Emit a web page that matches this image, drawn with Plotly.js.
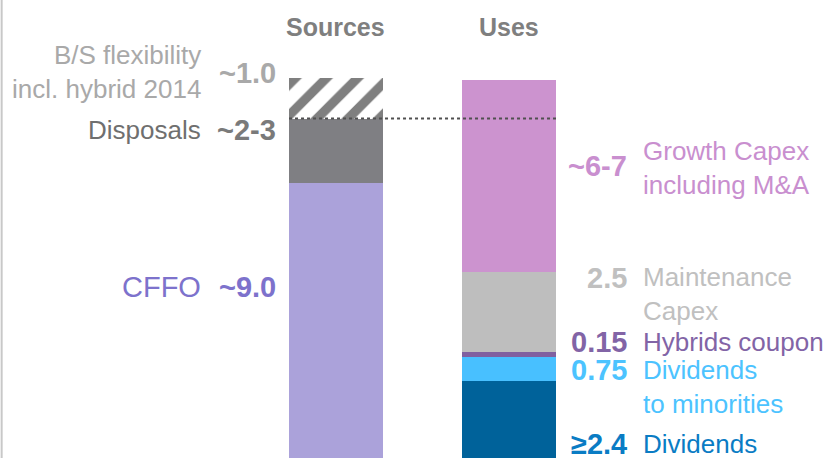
<!DOCTYPE html>
<html>
<head>
<meta charset="utf-8">
<script src="https://cdn.plot.ly/plotly-3.0.1.min.js"></script>
<style>html,body{margin:0;padding:0;background:#fff;}#chart{width:827px;height:458px;}</style>
</head>
<body>
<div id="chart"></div>
<script>
// ---- data ----
const columns = ['Sources', 'Uses'];
const sourceNames = ['CFFO', 'Disposals', 'B/S flexibility'];
const sourceValues = [8.6, 2.0, 1.25];
const sourceValueLabels = ['~9.0', '~2-3', '~1.0'];
const sourceTextLabels = ['CFFO', 'Disposals', 'B/S flexibility<br>incl. hybrid 2014'];
const useNames = ['Dividends', 'Dividends to minorities', 'Hybrids coupon', 'Maintenance Capex', 'Growth Capex'];
const useValues = [2.4, 0.75, 0.15, 2.5, 6.0];
const useValueLabels = ['≥2.4', '0.75', '0.15', '2.5', '~6-7'];
const useTextLabels = ['Dividends', 'Dividends<br>to minorities', 'Hybrids coupon', 'Maintenance<br>Capex', 'Growth Capex<br>including M&amp;A'];

// ---- styles / layout positions ----
const W = 827, H = 458;
const FONT = '"Liberation Sans", Arial, sans-serif';
const sourceBarColors = ['#aba2da', '#7f7f83', '#ffffff'];
const sourceTextColors = ['#7d72cc', '#6f6f6f', '#a9a9a9'];
const sourceNumColors = ['#7d72cc', '#7a7a7a', '#a9a9a9'];
const sourceTextSizes = [29, 26, 26];
const sourceTextY = [287, 130, 72];
const sourceNumY = [287, 130, 73];
const useBarColors = ['#00629a', '#48c0ff', '#8060a0', '#bebebe', '#cc93cf'];
const useTextColors = ['#0a7cc4', '#4cc3ff', '#8264a6', '#c0c0c0', '#c98fcf'];
const useTextY = [444, 387, 342, 294, 168];
const useNumY = [444, 370, 342, 278, 166];
const barWidth = 0.543;

const py = p => 1 - p / H;
const px = p => p / W;

const traces = [];
sourceValues.forEach((v, i) => {
  const marker = {color: sourceBarColors[i], line: {width: 0}};
  if (i === 2) {
    marker.pattern = {shape: '/', fgcolor: '#7f7f7f', bgcolor: '#ffffff', size: 22, solidity: 0.42};
  }
  traces.push({type: 'bar', x: [columns[0]], y: [v], name: sourceNames[i], width: barWidth,
    marker: marker, hoverinfo: 'name+y'});
});
useValues.forEach((v, i) => {
  traces.push({type: 'bar', x: [columns[1]], y: [v], name: useNames[i], width: barWidth,
    marker: {color: useBarColors[i], line: {width: 0}}, hoverinfo: 'name+y'});
});

const annotations = [];
columns.forEach(c => annotations.push({
  x: c, xref: 'x', y: py(27), yref: 'paper', text: '<b>' + c + '</b>', showarrow: false,
  xanchor: 'center', yanchor: 'middle', font: {family: FONT, size: 25, color: '#7f7f7f'}
}));
sourceValues.forEach((v, i) => {
  annotations.push({x: px(203), xref: 'paper', y: py(sourceTextY[i]), yref: 'paper', text: sourceTextLabels[i],
    showarrow: false, xanchor: 'right', yanchor: 'middle', align: 'right',
    font: {family: FONT, size: sourceTextSizes[i], color: sourceTextColors[i]}});
  annotations.push({x: px(278), xref: 'paper', y: py(sourceNumY[i]), yref: 'paper', text: '<b>' + sourceValueLabels[i] + '</b>',
    showarrow: false, xanchor: 'right', yanchor: 'middle',
    font: {family: FONT, size: 29, color: sourceNumColors[i]}});
});
useValues.forEach((v, i) => {
  annotations.push({x: px(641), xref: 'paper', y: py(useTextY[i]), yref: 'paper', text: useTextLabels[i],
    showarrow: false, xanchor: 'left', yanchor: 'middle', align: 'left',
    font: {family: FONT, size: 26, color: useTextColors[i]}});
  annotations.push({x: px(629), xref: 'paper', y: py(useNumY[i]), yref: 'paper', text: '<b>' + useValueLabels[i] + '</b>',
    showarrow: false, xanchor: 'right', yanchor: 'middle',
    font: {family: FONT, size: 29, color: useTextColors[i]}});
});

const layout = {
  width: W, height: H,
  margin: {l: 0, r: 0, t: 0, b: 0},
  paper_bgcolor: '#ffffff', plot_bgcolor: '#ffffff',
  barmode: 'stack', bargap: 0, showlegend: false,
  xaxis: {type: 'category', categoryarray: columns, range: [-1.942, 2.838], visible: false, fixedrange: true},
  yaxis: {range: [0, 14.3], visible: false, fixedrange: true},
  annotations: annotations,
  shapes: [
    {type: 'line', xref: 'paper', yref: 'paper', x0: 0.002, x1: 0.002, y0: 0, y1: 1,
      line: {color: '#c8c8c8', width: 2}},
    {type: 'line', xref: 'x', yref: 'y', x0: -barWidth / 2, x1: 1 + barWidth / 2,
      y0: sourceValues[0] + sourceValues[1], y1: sourceValues[0] + sourceValues[1],
      line: {color: '#505050', width: 2, dash: 'dot'}}
  ]
};

Plotly.newPlot('chart', traces, layout, {displayModeBar: false, staticPlot: true});
</script>
</body>
</html>
